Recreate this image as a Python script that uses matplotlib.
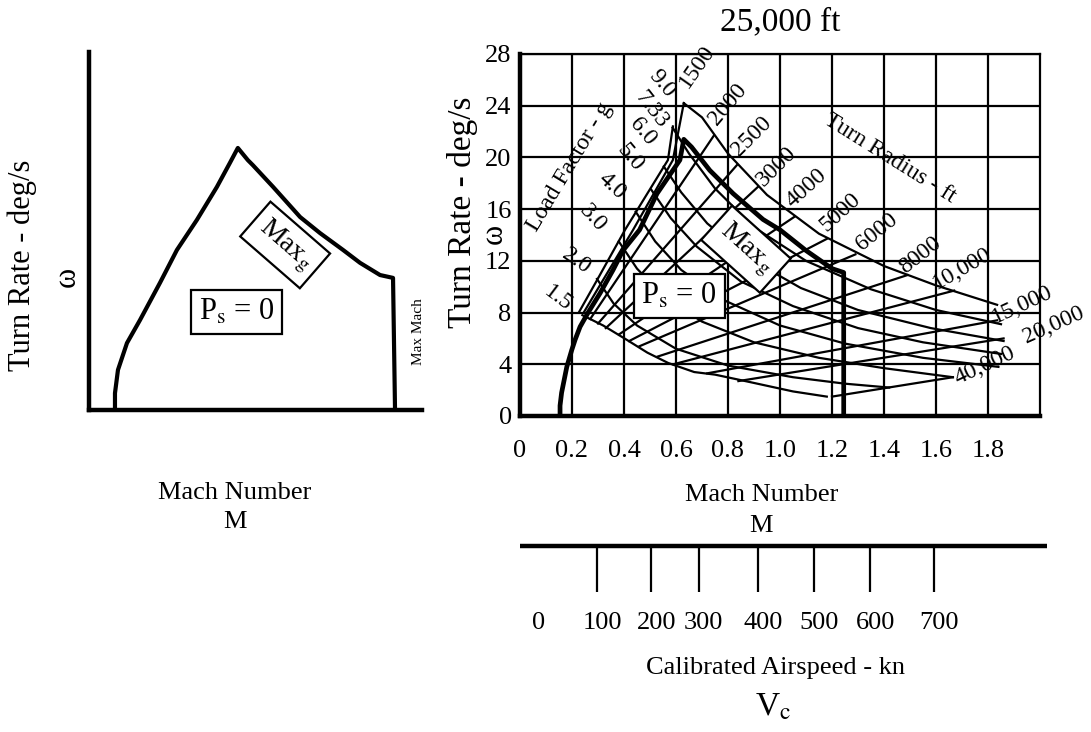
import matplotlib.pyplot as plt
import numpy as np

plt.rcParams['font.family'] = ['Liberation Serif', 'DejaVu Serif']
plt.rcParams['mathtext.fontset'] = 'stix'

W, H = 1091, 732

# ---------------- data (right chart, 25,000 ft) ----------------
mach_ticks = [0, 0.2, 0.4, 0.6, 0.8, 1.0, 1.2, 1.4, 1.6, 1.8]
mach_ticklabels = ["0", "0.2", "0.4", "0.6", "0.8", "1.0", "1.2", "1.4", "1.6", "1.8"]
omega_ticks = [0, 4, 8, 12, 16, 20, 24, 28]

# Ps = 0 boundary (thick)
ps_mach = [0.154, 0.154, 0.16, 0.18, 0.199, 0.212, 0.231, 0.262, 0.308, 0.358, 0.396,
           0.46, 0.527, 0.615, 0.63, 0.66, 0.73, 0.82, 0.935, 1.0, 1.1, 1.2, 1.245, 1.245]
ps_omega = [0.0, 0.8, 1.8, 3.8, 5.1, 5.9, 6.9, 8.0, 9.5, 11.3, 12.8,
            14.4, 17.2, 19.8, 21.4, 20.8, 19.0, 17.2, 15.2, 14.4, 12.8, 11.4, 11.1, 0.0]

# left-hand boundary lines of the grid
lift_mach = [0.226, 0.296, 0.404, 0.569, 0.588]
lift_omega = [8.0, 10.5, 14.4, 19.8, 22.4]
r1500_mach = [0.245, 0.319, 0.435, 0.588, 0.63]
r1500_omega = [8.0, 10.5, 14.4, 19.8, 24.2]

# load factor lines
n_labels = ["1.5", "2.0", "3.0", "4.0", "5.0", "6.0", "7.33", "9.0"]
n_mach = [
    [0.24, 0.32, 0.41, 0.49, 0.57, 0.67, 0.75, 0.89, 1.05, 1.18],
    [0.296, 0.36, 0.45, 0.6, 0.8, 1.05, 1.25, 1.42],
    [0.38, 0.45, 0.55, 0.7, 0.9, 1.15, 1.4, 1.665],
    [0.445, 0.52, 0.62, 0.78, 1.0, 1.25, 1.55, 1.84],
    [0.505, 0.58, 0.68, 0.85, 1.05, 1.3, 1.55, 1.85],
    [0.553, 0.62, 0.72, 0.88, 1.08, 1.3, 1.58, 1.86],
    [0.587, 0.65, 0.75, 0.9, 1.1, 1.35, 1.6, 1.85],
    [0.63, 0.7, 0.8, 0.95, 1.15, 1.4, 1.6, 1.835],
]
n_omega = [
    [7.8, 7.0, 5.9, 4.9, 4.1, 3.4, 3.2, 2.6, 1.9, 1.5],
    [10.6, 8.7, 7.0, 5.2, 3.9, 3.0, 2.5, 2.2],
    [13.5, 11.4, 9.3, 7.3, 5.7, 4.5, 3.7, 3.0],
    [15.8, 13.5, 11.3, 9.0, 7.0, 5.6, 4.5, 3.8],
    [17.5, 15.3, 13.1, 10.4, 8.5, 6.8, 5.7, 4.8],
    [19.3, 17.3, 14.9, 12.2, 9.9, 8.2, 6.8, 5.8],
    [22.3, 20.3, 17.6, 14.6, 12.0, 9.8, 8.2, 7.1],
    [24.2, 23.1, 20.3, 17.1, 14.1, 11.6, 10.1, 8.6],
]

# turn radius lines (start, end)
r_labels = ["1500", "2000", "2500", "3000", "4000", "5000", "6000", "8000",
            "10,000", "15,000", "20,000", "40,000"]
r_mach = [None, [0.27, 0.746], [0.30, 0.834], [0.33, 0.914], [0.38, 1.055], [0.42, 1.18],
          [0.46, 1.29], [0.53, 1.49], [0.59, 1.67], [0.72, 1.835], [0.84, 1.86], [1.2, 1.665]]
r_omega = [None, [7.5, 21.7], [7.15, 19.4], [6.8, 17.7], [6.3, 15.4], [5.8, 13.7],
           [5.4, 12.5], [4.6, 10.9], [4.0, 9.7], [3.3, 7.4], [2.7, 6.0], [1.5, 3.0]]

# calibrated airspeed scale
vc_values = [0, 100, 200, 300, 400, 500, 600, 700]
vc_mach = [0.05, 0.296, 0.504, 0.687, 0.915, 1.131, 1.346, 1.592]

# ---------------- data (left schematic) ----------------
sk_x = [0.078, 0.078, 0.087, 0.114, 0.153, 0.213, 0.264, 0.324, 0.384, 0.423, 0.447,
        0.477, 0.492, 0.553, 0.634, 0.694, 0.763, 0.814, 0.874, 0.913, 0.919]
sk_y = [0.0, 0.047, 0.112, 0.187, 0.251, 0.355, 0.447, 0.531, 0.623, 0.690, 0.732,
        0.698, 0.684, 0.623, 0.539, 0.494, 0.447, 0.411, 0.377, 0.369, 0.0]


def fx(px):
    return px / W


def fy(py):
    return 1 - py / H


fig = plt.figure(figsize=(W / 100, H / 100), dpi=100)

lw_thin = 1.6
lw_thick = 3.2
box = dict(boxstyle='square,pad=0.25', fc='white', ec='k', lw=lw_thin)
box_g = dict(boxstyle='square,pad=0.3', fc='white', ec='k', lw=lw_thin)

# ================= left schematic =================
ax2 = fig.add_axes([fx(89), fy(410), (422 - 89) / W, (410 - 52) / H])
ax2.plot(sk_x, sk_y, color='k', lw=3.0, solid_joinstyle='round')
ax2.set_xlim(0, 1)
ax2.set_ylim(0, 1)
ax2.set_xticks([])
ax2.set_yticks([])
for s in ['top', 'right']:
    ax2.spines[s].set_visible(False)
for s in ['left', 'bottom']:
    ax2.spines[s].set_linewidth(lw_thick)
ax2.text(0.444, 0.274, r"P$_{\rm s}$ = 0", fontsize=22, ha='center', va='center', bbox=box)
ax2.text(0.589, 0.461, r"Max$_{\rm g}$", fontsize=20, ha='center', va='center',
         rotation=-41, rotation_mode='anchor', bbox=box_g)

fig.text(fx(22), fy(265), "Turn Rate - deg/s", rotation=90, fontsize=22, ha='center', va='center')
fig.text(fx(67), fy(277), "\u03c9", rotation=90, fontsize=22, ha='center', va='center')
fig.text(fx(235), fy(493), "Mach Number", fontsize=19, ha='center', va='center')
fig.text(fx(235), fy(522), "M", fontsize=19, ha='center', va='center')
fig.text(fx(418), fy(332), "Max Mach", rotation=90, fontsize=11, ha='center', va='center')

# ================= right chart =================
ax = fig.add_axes([fx(520), fy(416), (1040 - 520) / W, (416 - 54) / H])
ax.set_xlim(0, 2.0)
ax.set_ylim(0, 28)
ax.set_xticks(mach_ticks)
ax.set_xticklabels(mach_ticklabels)
ax.set_yticks(omega_ticks)
ax.tick_params(length=0, labelsize=19)
ax.tick_params(axis='x', pad=17)
ax.tick_params(axis='y', pad=6)
ax.grid(True, color='k', lw=lw_thin)
ax.set_axisbelow(True)
for s in ['top', 'right']:
    ax.spines[s].set_linewidth(lw_thin)
for s in ['left', 'bottom']:
    ax.spines[s].set_linewidth(lw_thick)
    ax.spines[s].set_zorder(5)

for m, w in zip(n_mach, n_omega):
    ax.plot(m, w, color='k', lw=lw_thin)
for m, w in zip(r_mach, r_omega):
    if m is not None:
        ax.plot(m, w, color='k', lw=lw_thin)
ax.plot(lift_mach, lift_omega, color='k', lw=lw_thin)
ax.plot(r1500_mach, r1500_omega, color='k', lw=lw_thin)
ax.plot(ps_mach, ps_omega, color='k', lw=3.4)

# turn radius labels
r_pos = [(0.681, 27.0, 55), (0.80, 24.06, 50), (0.892, 21.6, 45), (0.988, 19.3, 45),
         (1.10, 17.6, 42), (1.231, 15.8, 42), (1.373, 14.2, 39), (1.538, 12.4, 38),
         (1.70, 11.4, 30), (1.931, 8.6, 25), (2.054, 7.0, 24), (1.788, 3.9, 25)]
for lab, (xm, yw, rot) in zip(r_labels, r_pos):
    ax.text(xm, yw, lab, fontsize=17, rotation=rot, ha='center', va='center',
            rotation_mode='anchor')

# load factor labels
n_pos = [(0.146, 9.13, -37), (0.215, 12.0, -35), (0.281, 15.3, -48), (0.354, 17.8, -43),
         (0.423, 20.0, -50), (0.473, 22.0, -50), (0.504, 23.7, -52), (0.546, 25.7, -50)]
for lab, (xm, yw, rot) in zip(n_labels, n_pos):
    ax.text(xm, yw, lab, fontsize=17, rotation=rot, ha='center', va='center',
            rotation_mode='anchor')

ax.text(0.19, 19.3, "Load Factor - g", fontsize=17, rotation=59, ha='center', va='center',
        rotation_mode='anchor')
ax.text(1.423, 19.9, "Turn Radius - ft", fontsize=17, rotation=-32, ha='center', va='center',
        rotation_mode='anchor')
ax.text(0.612, 9.3, r"P$_{\rm s}$ = 0", fontsize=22, ha='center', va='center', bbox=box)
ax.text(0.869, 12.9, r"Max$_{\rm g}$", fontsize=20, ha='center', va='center',
        rotation=-42, rotation_mode='anchor', bbox=box_g)

fig.text(fx(780), fy(22), "25,000 ft", fontsize=24, ha='center', va='center')
fig.text(fx(463), fy(212), "Turn Rate - deg/s", rotation=90, fontsize=24, ha='center', va='center')
fig.text(fx(494), fy(234), "\u03c9", rotation=90, fontsize=22, ha='center', va='center')
fig.text(fx(762), fy(495), "Mach Number", fontsize=19, ha='center', va='center')
fig.text(fx(761), fy(526), "M", fontsize=19, ha='center', va='center')

# ================= calibrated airspeed scale =================
ax3 = fig.add_axes([fx(520), fy(600), (1040 - 520) / W, 60 / H])
ax3.set_xlim(0, 2.0)
ax3.set_ylim(0, 1)
ax3.axis('off')
ax3.plot([0, 2.025], [0.9, 0.9], color='k', lw=lw_thick, clip_on=False, solid_capstyle='butt')
ax3.vlines(vc_mach[1:], 0.133, 0.9, color='k', lw=lw_thin)
for v, m in zip(vc_values, vc_mach):
    ax3.text(m + 0.02, -0.38, str(v), fontsize=19, ha='center', va='center')

fig.text(fx(776), fy(668), "Calibrated Airspeed - kn", fontsize=19, ha='center', va='center')
fig.text(fx(773), fy(707), r"V$_{\rm c}$", fontsize=24, ha='center', va='center')

fig.savefig("out.png", dpi=100)
